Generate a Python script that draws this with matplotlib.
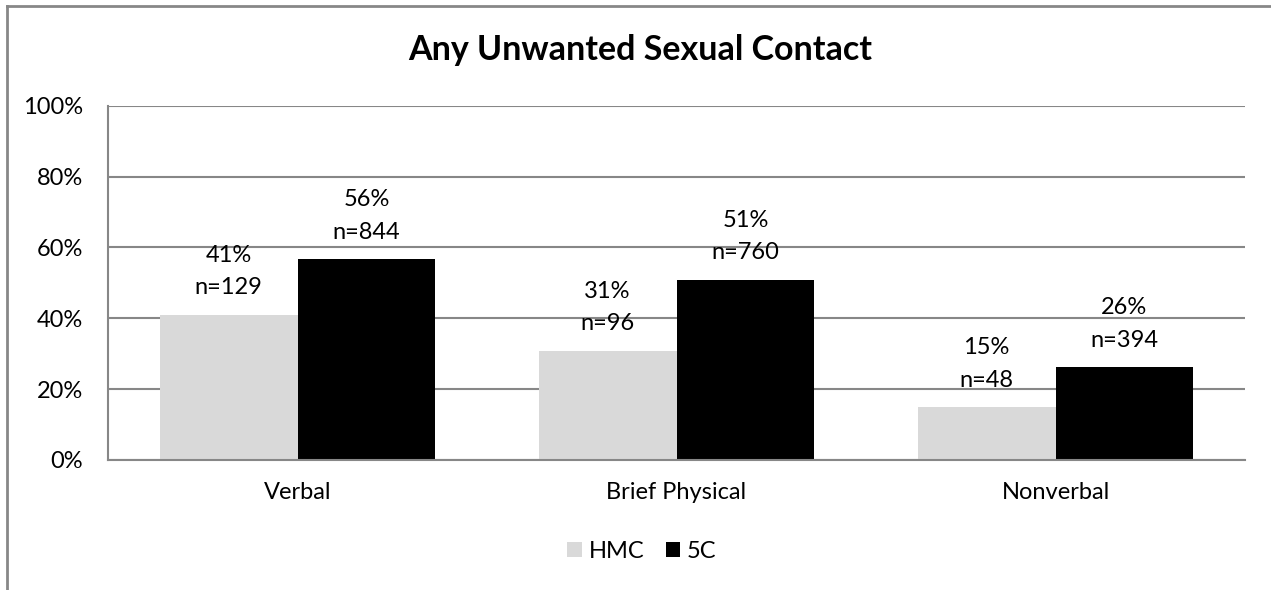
import numpy as np
import matplotlib
matplotlib.use("Agg")
import matplotlib.pyplot as plt
from matplotlib.lines import Line2D

plt.rcParams['font.family'] = ['Lato', 'DejaVu Sans']

# data
categories = ["Verbal", "Brief Physical", "Nonverbal"]
series_names = ["HMC", "5C"]
hmc_vals = [41.0, 30.8, 14.9]
fivec_vals = [56.6, 50.8, 26.2]
hmc_n = [129, 96, 48]
fivec_n = [844, 760, 394]
hmc_pct = ["41%", "31%", "15%"]
fivec_pct = ["56%", "51%", "26%"]
yticks = [0, 20, 40, 60, 80, 100]

W, H = 1271, 590
fs = 17
fig = plt.figure(figsize=(W / 100, H / 100), dpi=100)
ax = fig.add_axes([108 / W, 1 - 460 / H, (1245 - 108) / W, (460 - 105.7) / H])

x = np.arange(len(categories))
bw = 0.364
gray = "#878787"

b1 = ax.bar(x - bw / 2, hmc_vals, bw, color="#d9d9d9", label=series_names[0], zorder=3)
b2 = ax.bar(x + bw / 2, fivec_vals, bw, color="#000000", label=series_names[1], zorder=3)

# data labels: percent on top line, n below it
for bars, pcts, ns in [(b1, hmc_pct, hmc_n), (b2, fivec_pct, fivec_n)]:
    for r, p, n in zip(bars, pcts, ns):
        cx = r.get_x() + r.get_width() / 2
        top = r.get_height()
        ax.annotate("n=%d" % n, (cx, top), xytext=(0, 19.5), textcoords="offset points",
                    ha="center", va="center", fontsize=fs, zorder=4)
        ax.annotate(p, (cx, top), xytext=(0, 43.0), textcoords="offset points",
                    ha="center", va="center", fontsize=fs, zorder=4)

ax.set_ylim(0, 100)
ax.set_xlim(-0.5, len(categories) - 0.5)
ax.set_yticks(yticks)
ax.set_yticklabels(["%d%%" % v for v in yticks], fontsize=fs)
ax.set_xticks(x)
ax.set_xticklabels(categories, fontsize=fs)
ax.tick_params(axis="y", length=0, pad=18)
ax.tick_params(axis="x", length=0, pad=16)
ax.yaxis.grid(True, color=gray, linewidth=1.5, zorder=0)
ax.set_axisbelow(True)
for s in ["top", "right"]:
    ax.spines[s].set_visible(False)
for s in ["left", "bottom"]:
    ax.spines[s].set_color(gray)
    ax.spines[s].set_linewidth(1.5)
    ax.spines[s].set_zorder(5)

fig.text(640 / W, 1 - 50 / H, "Any Unwanted Sexual Contact", ha="center", va="center",
         fontsize=24.5, fontweight="bold")

leg = fig.legend(handles=[b1, b2], labels=series_names, loc="center", bbox_to_anchor=(642 / W, 1 - 551 / H),
                 ncol=2, frameon=False, fontsize=fs, handlelength=0.6, handleheight=0.6,
                 handletextpad=0.3, columnspacing=0.9)

# chart border (only left and top visible in the crop)
fig.add_artist(Line2D([7 / W, 7 / W], [0, 1 - 6 / H], color=gray, linewidth=2, transform=fig.transFigure))
fig.add_artist(Line2D([7 / W, 1], [1 - 6 / H, 1 - 6 / H], color=gray, linewidth=2, transform=fig.transFigure))

fig.savefig("out.png", dpi=100)
